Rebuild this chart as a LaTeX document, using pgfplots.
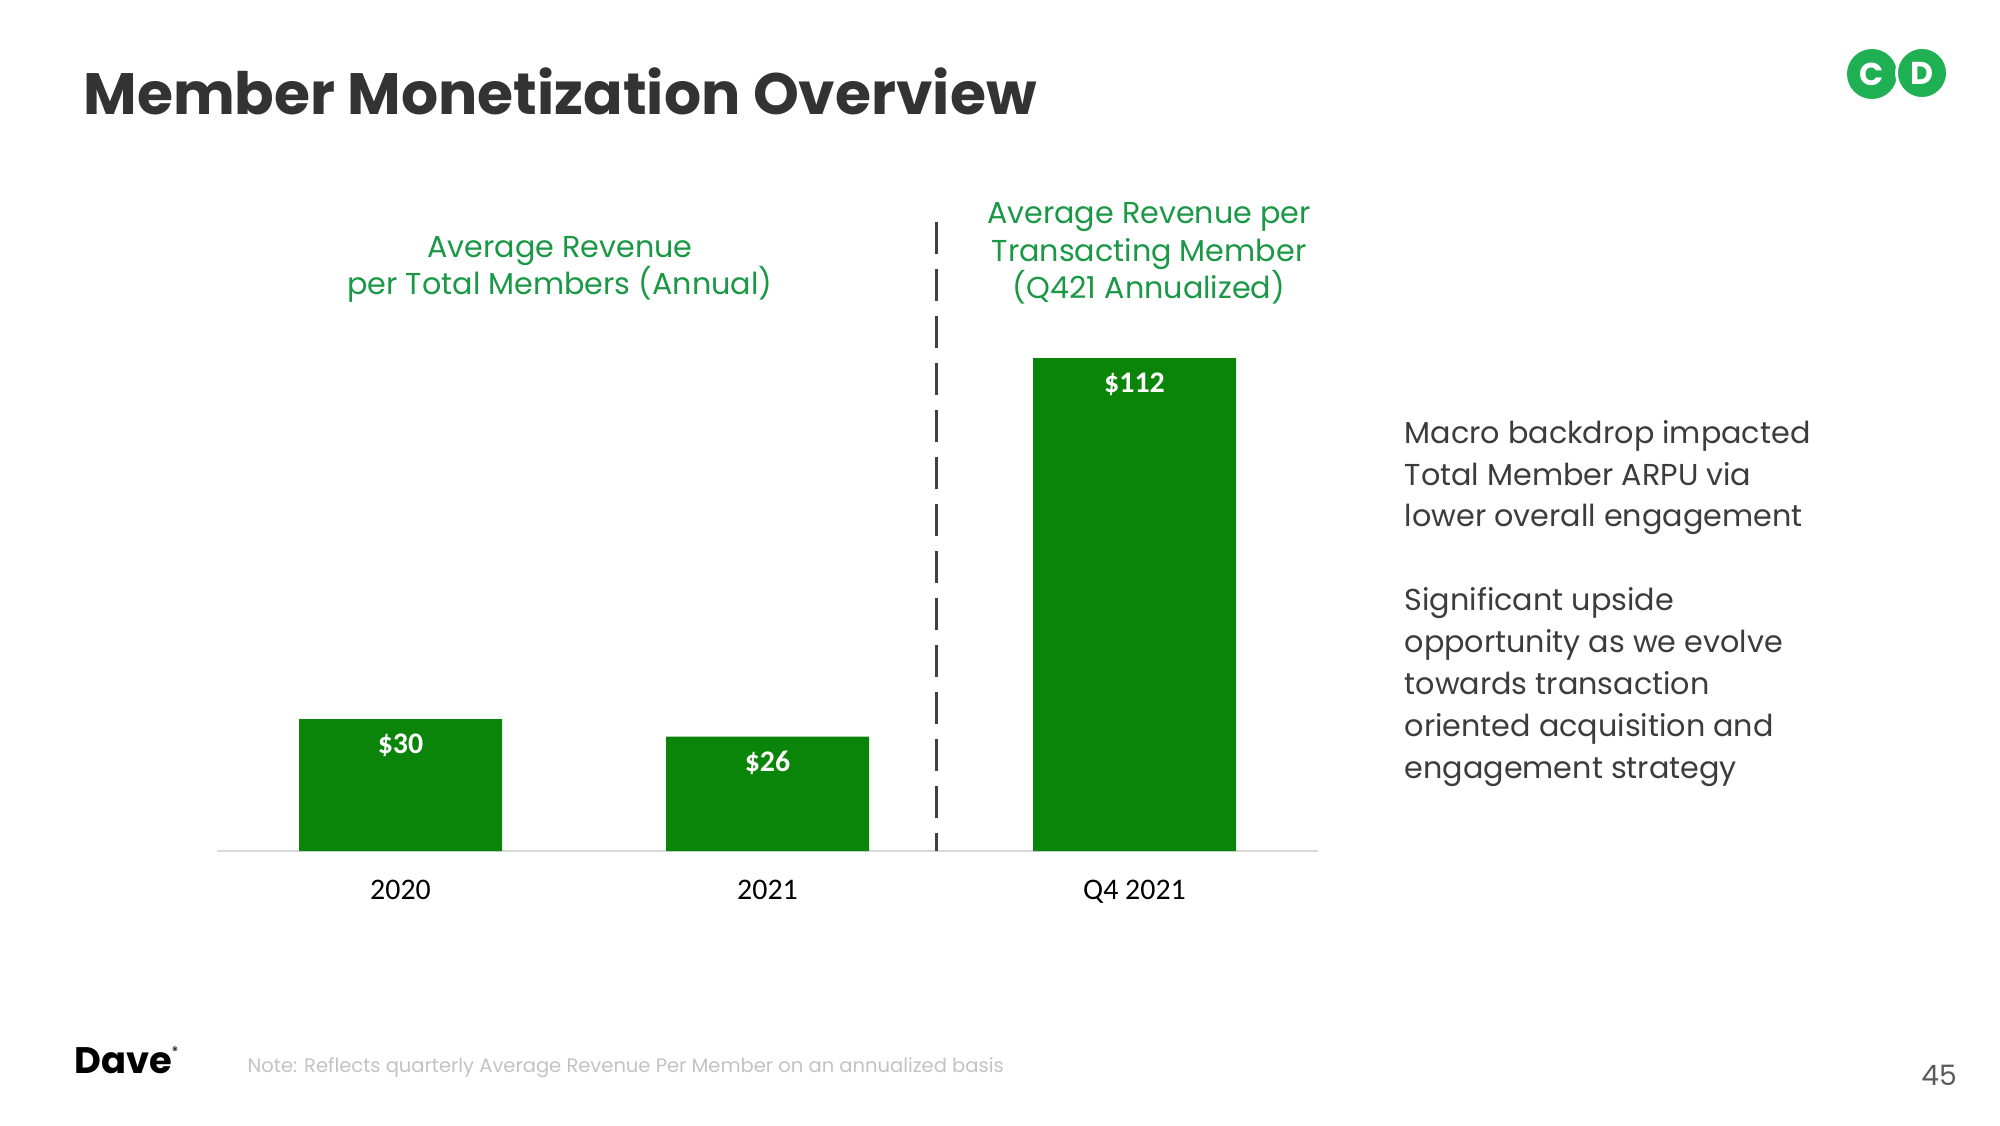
\documentclass[border=0pt]{standalone}
\usepackage{pgfplots}
\pgfplotsset{compat=1.18}
\usepackage{fontspec}
\setmainfont{Poppins}
\newfontfamily\carlito{Carlito}
\definecolor{bargreen}{RGB}{10,133,10}
\definecolor{headgreen}{RGB}{27,152,70}
\definecolor{txt}{RGB}{60,60,60}
\definecolor{titlec}{RGB}{51,51,51}
\definecolor{logogreen}{RGB}{30,176,82}
\definecolor{notegray}{RGB}{195,195,195}
\definecolor{axisgray}{RGB}{217,217,217}
\definecolor{dashgray}{RGB}{64,64,64}
\definecolor{pagegray}{RGB}{90,90,90}
\begin{document}
\begin{tikzpicture}[x=1cm,y=1cm]
\useasboundingbox[fill=white] (0,0) rectangle (20,11.25);
\begin{axis}[
  at={(2.17cm,2.74cm)}, anchor=south west,
  scale only axis, width=11.01cm, height=5.28cm,
  xmin=-0.5, xmax=2.5, ymin=0, ymax=120,
  clip=false,
  axis x line*=bottom, axis y line=none,
  x axis line style={axisgray, line width=0.6pt, -},
  xtick={0,1,2}, xticklabels={2020,2021,Q4 2021},
  major tick length=0pt,
  xticklabel style={anchor=base, yshift=-0.48cm, text=black,
    font=\carlito\fontsize{8.5}{10}\selectfont},
  ytick=\empty,
  /pgf/number format/assume math mode=true,
]
\addplot[ybar, fill=bargreen, draw=none, bar width=2.03cm,
  nodes near coords={\$\pgfmathprintnumber[assume math mode=true]{\pgfplotspointmeta}},
  nodes near coords style={anchor=center, yshift=-0.26cm, text=white,
    font=\carlito\bfseries\fontsize{8.5}{10}\selectfont}]
  coordinates {(0,30) (1,26) (2,112)};
\draw[dashgray, line width=0.03cm, dash pattern=on 0.32cm off 0.15cm]
  (axis cs:1.46,143) -- (axis cs:1.46,0);
\end{axis}
% title
\node[anchor=base west, inner sep=0, text=titlec,
  font=\bfseries\fontsize{16.6}{20}\selectfont] at (0.83,10.10) {Member Monetization Overview};
% headings
\begin{scope}[every node/.style={anchor=base, inner sep=0, text=headgreen,
  font=\fontsize{8.6}{11}\selectfont}]
\node at (5.60,8.67) {Average Revenue};
\node at (5.60,8.30) {per Total Members (Annual)};
\node at (11.49,9.01) {Average Revenue per};
\node at (11.49,8.63) {Transacting Member};
\node at (11.49,8.26) {(Q421 Annualized)};
\end{scope}
% right text
\begin{scope}[every node/.style={anchor=base west, inner sep=0, text=txt,
  font=\fontsize{8.6}{11}\selectfont}]
\node at (14.04,6.82) {Macro backdrop impacted};
\node at (14.04,6.40) {Total Member ARPU via};
\node at (14.04,5.98) {lower overall engagement};
\node at (14.04,5.15) {Significant upside};
\node at (14.04,4.73) {opportunity as we evolve};
\node at (14.04,4.31) {towards transaction};
\node at (14.04,3.89) {oriented acquisition and};
\node at (14.04,3.47) {engagement strategy};
\end{scope}
% footer
\node[anchor=base west, inner sep=0, text=notegray, font=\fontsize{5.55}{7}\selectfont]
  at (2.47,0.53) {Note: Reflects quarterly Average Revenue Per Member on an annualized basis};
\node[anchor=base, inner sep=0, text=pagegray, font=\fontsize{8}{10}\selectfont]
  at (19.39,0.40) {45};
\node[anchor=base west, inner sep=0, text=black, font=\bfseries\fontsize{10.5}{13}\selectfont]
  at (0.74,0.52) {Dave\raisebox{0.9ex}{\fontsize{3}{3}\selectfont\textregistered}};
% logo
\fill[logogreen] (18.72,10.51) circle (0.25);
\filldraw[logogreen, draw=white, line width=0.8pt] (19.22,10.52) circle (0.255);
\node[text=white, font=\bfseries\fontsize{9}{10}\selectfont] at (18.72,10.51) {C};
\node[text=white, font=\bfseries\fontsize{9}{10}\selectfont] at (19.22,10.52) {D};
\end{tikzpicture}
\end{document}
